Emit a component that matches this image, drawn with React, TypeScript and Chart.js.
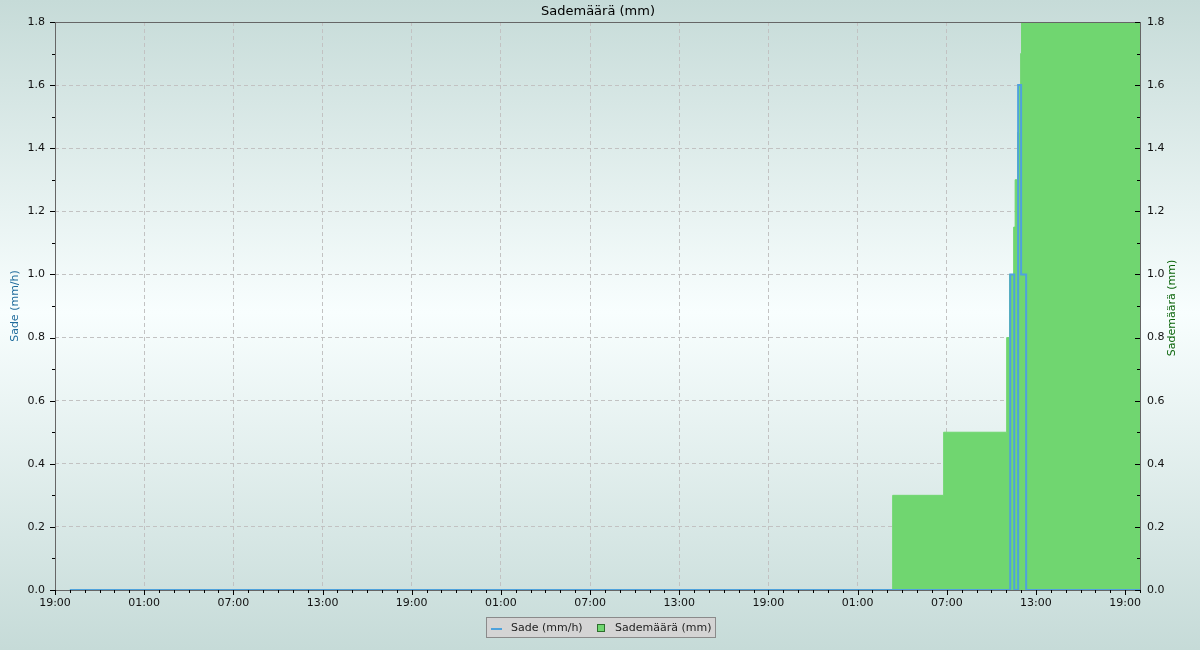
import React, { useEffect, useRef } from "react";
import { Chart, registerables } from "chart.js";

Chart.register(...registerables);

// Hours counted from 19:00 on the first day
const START_HOUR = 19;
const X_MIN = 0;
const X_MAX = 73;
const X_STEP = 6;
const Y_MIN = 0;
const Y_MAX = 1.8;
const Y_STEP = 0.2;

const rateLabel = "Sade (mm/h)";
const totalLabel = "Sademäärä (mm)";
const titleText = "Sademäärä (mm)";

const rateTimes = [1, 64.27, 64.54, 64.8, 65.0, 65.34, 73];
const rateValues = [0, 1.0, 0, 1.6, 1.0, 0, 0];

const totalTimes = [1, 56.36, 59.79, 64.03, 64.22, 64.5, 64.6, 64.76, 64.9, 64.97, 65.03, 73];
const totalValues = [0, 0.3, 0.5, 0.8, 1.0, 1.15, 1.3, 1.45, 1.6, 1.7, 1.8, 1.8];

const BLUE = "#4fa2dc";
const GREEN = "#70d670";
const FONT = "DejaVu Sans";

function hourLabel(h: number): string {
  const hh = ((START_HOUR + Math.round(h)) % 24 + 24) % 24;
  return (hh < 10 ? "0" : "") + hh + ":00";
}

const decorPlugin = {
  id: "decor",
  beforeDraw(chart: any) {
    const { ctx, width, height } = chart;
    ctx.save();
    const g = ctx.createLinearGradient(0, 0, 0, height);
    g.addColorStop(0, "#c6dbd8");
    g.addColorStop(0.48, "#f8fefe");
    g.addColorStop(1, "#c6dbd8");
    ctx.fillStyle = g;
    ctx.fillRect(0, 0, width, height);
    ctx.restore();
  },
  afterDatasetsDraw(chart: any) {
    const { ctx, chartArea } = chart;
    const { left, right, top, bottom } = chartArea;
    const xs = chart.scales.x;
    const ys = chart.scales.y;
    ctx.save();
    ctx.strokeStyle = "#666666";
    ctx.lineWidth = 1;
    ctx.strokeRect(Math.round(left) + 0.5, Math.round(top) + 0.5, Math.round(right - left), Math.round(bottom - top));
    ctx.strokeStyle = "#000000";
    ctx.beginPath();
    for (let h = X_MIN; h <= X_MAX; h++) {
      const px = Math.round(xs.getPixelForValue(h)) + 0.5;
      const len = h % X_STEP === 0 ? 5 : 3;
      ctx.moveTo(px, Math.round(bottom));
      ctx.lineTo(px, Math.round(bottom) + len);
    }
    for (let i = 0; i <= 18; i++) {
      const v = i / 10;
      const py = Math.round(ys.getPixelForValue(v)) + 0.5;
      const len = i % 2 === 0 ? 5 : 3;
      ctx.moveTo(Math.round(left) - len, py);
      ctx.lineTo(Math.round(left), py);
      ctx.moveTo(Math.round(right) - len, py);
      ctx.lineTo(Math.round(right), py);
    }
    ctx.stroke();
    ctx.restore();
  },
  afterDraw(chart: any) {
    const { ctx, chartArea } = chart;
    const midY = (chartArea.top + chartArea.bottom) / 2;
    ctx.save();
    ctx.fillStyle = "#000000";
    ctx.font = `13px "${FONT}"`;
    ctx.textAlign = "center";
    ctx.textBaseline = "middle";
    ctx.fillText(titleText, 598, 12);
    ctx.font = `11px "${FONT}"`;
    ctx.save();
    ctx.translate(15, midY);
    ctx.rotate(-Math.PI / 2);
    ctx.fillStyle = "#1f6b9c";
    ctx.fillText(rateLabel, 0, 0);
    ctx.restore();
    ctx.save();
    ctx.translate(1172, midY + 2);
    ctx.rotate(-Math.PI / 2);
    ctx.fillStyle = "#0a640a";
    ctx.fillText(totalLabel, 0, 0);
    ctx.restore();
    const bx = 486.5, by = 617.5, bw = 229, bh = 20;
    ctx.fillStyle = "#d4d4d4";
    ctx.fillRect(bx, by, bw, bh);
    ctx.strokeStyle = "#8a8a8a";
    ctx.lineWidth = 1;
    ctx.strokeRect(bx, by, bw, bh);
    ctx.strokeStyle = BLUE;
    ctx.lineWidth = 2;
    ctx.beginPath();
    ctx.moveTo(491, 629);
    ctx.lineTo(502, 629);
    ctx.stroke();
    ctx.fillStyle = GREEN;
    ctx.fillRect(597.5, 624.5, 7, 7);
    ctx.strokeStyle = "#2e6e2e";
    ctx.lineWidth = 1;
    ctx.strokeRect(597.5, 624.5, 7, 7);
    ctx.fillStyle = "#222222";
    ctx.textAlign = "left";
    ctx.textBaseline = "middle";
    ctx.fillText(rateLabel, 511, 628);
    ctx.fillText(totalLabel, 615, 628);
    ctx.restore();
  },
};

export default function App() {
  const canvasRef = useRef<HTMLCanvasElement | null>(null);

  useEffect(() => {
    document.body.style.margin = "0";
    const canvas = canvasRef.current;
    if (!canvas) return;
    const rateData = rateTimes.map((t, i) => ({ x: t, y: rateValues[i] }));
    const totalData = totalTimes.map((t, i) => ({ x: t, y: totalValues[i] }));
    const tickFont = { family: FONT, size: 11 };

    const chart = new Chart(canvas, {
      type: "line",
      data: {
        datasets: [
          {
            label: rateLabel,
            data: rateData,
            yAxisID: "y",
            stepped: true,
            borderColor: BLUE,
            borderWidth: 2,
            pointRadius: 0,
            fill: false,
          },
          {
            label: totalLabel,
            data: totalData,
            yAxisID: "y2",
            stepped: true,
            borderColor: GREEN,
            backgroundColor: GREEN,
            borderWidth: 1,
            pointRadius: 0,
            fill: "origin",
          },
        ],
      },
      options: {
        animation: false,
        responsive: false,
        devicePixelRatio: 1,
        layout: { padding: { top: 22, left: 0, right: 0, bottom: 0 } },
        plugins: {
          legend: { display: false },
          title: { display: false },
          tooltip: { enabled: false },
        },
        scales: {
          x: {
            type: "linear",
            min: X_MIN,
            max: X_MAX,
            afterBuildTicks: (scale: any) => {
              const t = [];
              for (let h = X_MIN; h <= X_MAX; h += X_STEP) t.push({ value: h });
              scale.ticks = t;
            },
            afterFit: (scale: any) => {
              scale.height = 60;
            },
            ticks: {
              autoSkip: false,
              maxRotation: 0,
              padding: 7,
              color: "#111111",
              font: tickFont,
              callback: (v: any) => hourLabel(Number(v)),
            },
            grid: {
              color: "#c2c2c2",
              lineWidth: 1,
              drawTicks: false,
            },
            border: { display: false, dash: [4, 3] },
          },
          y: {
            type: "linear",
            position: "left",
            min: Y_MIN,
            max: Y_MAX,
            afterBuildTicks: (scale: any) => {
              const t = [];
              for (let i = 0; i <= 9; i++) t.push({ value: Math.round(i * Y_STEP * 10) / 10 });
              scale.ticks = t;
            },
            afterFit: (scale: any) => {
              scale.width = 55;
            },
            ticks: {
              padding: 10,
              color: "#111111",
              font: tickFont,
              callback: (v: any) => Number(v).toFixed(1),
            },
            grid: {
              color: "#c2c2c2",
              lineWidth: 1,
              drawTicks: false,
            },
            border: { display: false, dash: [4, 3] },
          },
          y2: {
            type: "linear",
            position: "right",
            min: Y_MIN,
            max: Y_MAX,
            afterBuildTicks: (scale: any) => {
              const t = [];
              for (let i = 0; i <= 9; i++) t.push({ value: Math.round(i * Y_STEP * 10) / 10 });
              scale.ticks = t;
            },
            afterFit: (scale: any) => {
              scale.width = 60;
            },
            ticks: {
              padding: 7,
              color: "#111111",
              font: tickFont,
              callback: (v: any) => Number(v).toFixed(1),
            },
            grid: { display: false, drawTicks: false },
            border: { display: false },
          },
        },
      },
      plugins: [decorPlugin],
    } as any);

    return () => {
      chart.destroy();
    };
  }, []);

  return (
    <div style={{ position: "absolute", left: 0, top: 0, width: 1200, height: 650 }}>
      <canvas ref={canvasRef} width={1200} height={650} style={{ display: "block", width: 1200, height: 650 }} />
    </div>
  );
}
